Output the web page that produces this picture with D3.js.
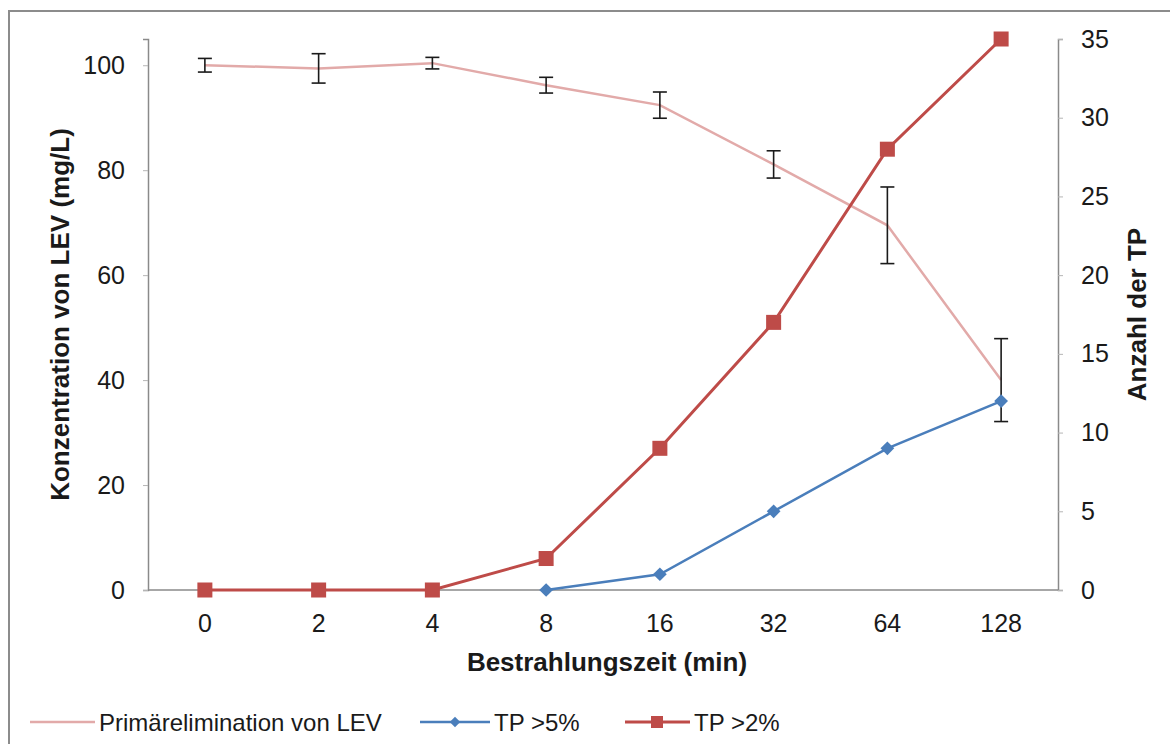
<!DOCTYPE html>
<html>
<head>
<meta charset="utf-8">
<script src="https://cdn.jsdelivr.net/npm/d3@7/dist/d3.min.js"></script>
<style>
  body { margin: 0; background: #fff; }
  svg text { font-family: Arial, "Liberation Sans", sans-serif; fill: #1a1a1a; }
</style>
</head>
<body>
<svg id="chart" width="1170" height="744"></svg>
<script>
var categories = ['0', '2', '4', '8', '16', '32', '64', '128'];
var primaer = [100, 99.4, 100.4, 96.2, 92.4, 81.1, 69.5, 40];
var primaerErr = [1.3, 2.8, 1.1, 1.5, 2.5, 2.6, 7.3, 7.9];
var tp5 = [null, null, null, 0, 1, 5, 9, 12];
var tp2 = [0, 0, 0, 2, 9, 17, 28, 35];
var leftTicks = [0, 20, 40, 60, 80, 100];
var rightTicks = [0, 5, 10, 15, 20, 25, 30, 35];

var colors = {
  primaer: '#e2aaa9',
  tp5: '#4a7ebb',
  tp2: '#be4b48',
  axis: '#8a8a8a'
};

var svg = d3.select('#chart');
var plot = { left: 148, right: 1058, top: 39, bottom: 590 };

// outer frame
svg.append('rect')
  .attr('x', 9).attr('y', 11)
  .attr('width', 1200).attr('height', 800)
  .attr('fill', 'none')
  .attr('stroke', '#8c8c8c')
  .attr('stroke-width', 2);

var x = d3.scaleBand()
  .domain(categories)
  .range([plot.left, plot.right]);

var yLeft = d3.scaleLinear().domain([0, 105]).range([plot.bottom, plot.top]);
var yRight = d3.scaleLinear().domain([0, 35]).range([plot.bottom, plot.top]);

var cx = function (i) { return x(categories[i]) + x.bandwidth() / 2; };

// axes
var leftAxis = svg.append('g')
  .attr('transform', 'translate(' + plot.left + ',0)')
  .call(d3.axisLeft(yLeft).tickValues(leftTicks).tickSize(5).tickPadding(18));

var rightAxis = svg.append('g')
  .attr('transform', 'translate(' + plot.right + ',0)')
  .call(d3.axisRight(yRight).tickValues(rightTicks).tickSize(5).tickPadding(18));

var bottomAxis = svg.append('g')
  .attr('transform', 'translate(0,' + plot.bottom + ')')
  .call(d3.axisBottom(x).tickSize(0).tickPadding(24));

[leftAxis, rightAxis, bottomAxis].forEach(function (g) {
  g.select('.domain').attr('stroke', colors.axis).attr('stroke-width', 1.5);
  g.selectAll('.tick line').attr('stroke', '#b5b5b5');
  g.selectAll('.tick text')
    .attr('font-size', 25)
    .attr('fill', '#1a1a1a')
    .attr('font-family', 'Arial, "Liberation Sans", sans-serif');
});
bottomAxis.select('.domain').attr('d', 'M' + plot.left + ',0H' + plot.right);

// axis titles
svg.append('text')
  .attr('transform', 'translate(69,' + ((plot.top + plot.bottom) / 2) + ') rotate(-90)')
  .attr('text-anchor', 'middle')
  .attr('font-size', 26)
  .attr('font-weight', 'bold')
  .text('Konzentration von  LEV (mg/L)');

svg.append('text')
  .attr('transform', 'translate(1146,' + ((plot.top + plot.bottom) / 2) + ') rotate(-90)')
  .attr('text-anchor', 'middle')
  .attr('font-size', 26)
  .attr('font-weight', 'bold')
  .text('Anzahl der TP');

svg.append('text')
  .attr('x', (plot.left + plot.right) / 2 + 4)
  .attr('y', 671)
  .attr('text-anchor', 'middle')
  .attr('font-size', 26)
  .attr('font-weight', 'bold')
  .text('Bestrahlungszeit (min)');

var defined = function (d) { return d !== null; };

// Primärelimination line
var lineLeft = d3.line()
  .x(function (d, i) { return cx(i); })
  .y(function (d) { return yLeft(d); });

svg.append('path')
  .datum(primaer)
  .attr('d', lineLeft)
  .attr('fill', 'none')
  .attr('stroke', colors.primaer)
  .attr('stroke-width', 2.5);

// error bars
var errG = svg.append('g').attr('stroke', '#1a1a1a').attr('stroke-width', 1.6);
primaer.forEach(function (v, i) {
  var top = yLeft(v + primaerErr[i]), bot = yLeft(v - primaerErr[i]), xc = cx(i);
  errG.append('line').attr('x1', xc).attr('x2', xc).attr('y1', top).attr('y2', bot);
  errG.append('line').attr('x1', xc - 7).attr('x2', xc + 7).attr('y1', top).attr('y2', top);
  errG.append('line').attr('x1', xc - 7).attr('x2', xc + 7).attr('y1', bot).attr('y2', bot);
});

// TP series on right axis
var lineRight = d3.line()
  .defined(defined)
  .x(function (d, i) { return cx(i); })
  .y(function (d) { return yRight(d); });

svg.append('path')
  .datum(tp5)
  .attr('d', lineRight)
  .attr('fill', 'none')
  .attr('stroke', colors.tp5)
  .attr('stroke-width', 2.5);

svg.append('path')
  .datum(tp2)
  .attr('d', lineRight)
  .attr('fill', 'none')
  .attr('stroke', colors.tp2)
  .attr('stroke-width', 3);

var diamond = d3.symbol().type(d3.symbolDiamond2 || d3.symbolDiamond).size(120);

svg.append('g').selectAll('path')
  .data(tp5.map(function (d, i) { return { v: d, i: i }; }).filter(function (d) { return d.v !== null; }))
  .join('path')
  .attr('d', diamond)
  .attr('transform', function (d) { return 'translate(' + cx(d.i) + ',' + yRight(d.v) + ')'; })
  .attr('fill', colors.tp5);

svg.append('g').selectAll('rect')
  .data(tp2)
  .join('rect')
  .attr('x', function (d, i) { return cx(i) - 7.5; })
  .attr('y', function (d) { return yRight(d) - 7.5; })
  .attr('width', 15)
  .attr('height', 15)
  .attr('fill', colors.tp2);

// legend
var legendY = 722;
var legend = svg.append('g');

legend.append('line')
  .attr('x1', 30).attr('x2', 95).attr('y1', legendY).attr('y2', legendY)
  .attr('stroke', colors.primaer).attr('stroke-width', 2.5);
legend.append('text')
  .attr('x', 99).attr('y', legendY + 9)
  .attr('font-size', 24)
  .text('Primärelimination von LEV');

legend.append('line')
  .attr('x1', 420).attr('x2', 490).attr('y1', legendY).attr('y2', legendY)
  .attr('stroke', colors.tp5).attr('stroke-width', 2.5);
legend.append('path')
  .attr('d', d3.symbol().type(d3.symbolDiamond2 || d3.symbolDiamond).size(70))
  .attr('transform', 'translate(455,' + legendY + ')')
  .attr('fill', colors.tp5);
legend.append('text')
  .attr('x', 494).attr('y', legendY + 9)
  .attr('font-size', 24)
  .text('TP >5%');

legend.append('line')
  .attr('x1', 625).attr('x2', 690).attr('y1', legendY).attr('y2', legendY)
  .attr('stroke', colors.tp2).attr('stroke-width', 3);
legend.append('rect')
  .attr('x', 651).attr('y', legendY - 6)
  .attr('width', 12).attr('height', 12)
  .attr('fill', colors.tp2);
legend.append('text')
  .attr('x', 694).attr('y', legendY + 9)
  .attr('font-size', 24)
  .text('TP >2%');
</script>
</body>
</html>
